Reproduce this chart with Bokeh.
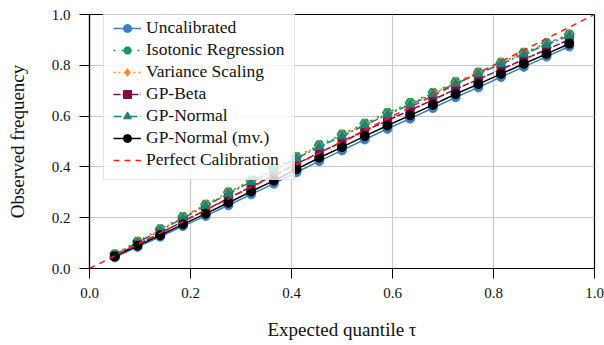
from bokeh.plotting import figure
from bokeh.models import Range1d, FixedTicker, NumeralTickFormatter
from bokeh.embed import file_html
from bokeh.resources import INLINE

# ---------------- data ----------------
tau = [0.05, 0.095, 0.14, 0.185, 0.23, 0.275, 0.32, 0.365, 0.41, 0.455, 0.5,
       0.545, 0.59, 0.635, 0.68, 0.725, 0.77, 0.815, 0.86, 0.905, 0.95]

uncalibrated = [0.044, 0.085, 0.125, 0.167, 0.207, 0.249, 0.292, 0.334, 0.379, 0.423, 0.465,
                0.508, 0.550, 0.590, 0.632, 0.674, 0.713, 0.754, 0.794, 0.834, 0.874]
isotonic = [0.056, 0.106, 0.155, 0.204, 0.252, 0.300, 0.347, 0.393, 0.440, 0.486, 0.528,
            0.571, 0.613, 0.652, 0.692, 0.734, 0.772, 0.811, 0.850, 0.887, 0.922]
variance_scaling = [0.056, 0.105, 0.153, 0.202, 0.250, 0.298, 0.345, 0.390, 0.437, 0.483, 0.525,
                    0.568, 0.610, 0.649, 0.690, 0.732, 0.770, 0.809, 0.848, 0.885, 0.922]
gp_beta = [0.050, 0.095, 0.139, 0.185, 0.230, 0.277, 0.322, 0.367, 0.412, 0.456, 0.498,
           0.541, 0.583, 0.623, 0.664, 0.706, 0.745, 0.784, 0.823, 0.862, 0.901]
gp_normal = [0.053, 0.102, 0.149, 0.198, 0.246, 0.294, 0.341, 0.386, 0.433, 0.479, 0.521,
             0.564, 0.606, 0.645, 0.686, 0.728, 0.766, 0.805, 0.844, 0.881, 0.917]
gp_normal_mv = [0.047, 0.090, 0.131, 0.174, 0.216, 0.259, 0.303, 0.346, 0.391, 0.436, 0.478,
                0.521, 0.563, 0.603, 0.644, 0.687, 0.726, 0.766, 0.806, 0.845, 0.885]
diag = [0.0, 1.0]

ticks = [0.0, 0.2, 0.4, 0.6, 0.8, 1.0]

FONT = "Liberation Serif"

p = figure(width=604, height=345, output_backend="svg", toolbar_location=None,
           x_range=Range1d(0, 1), y_range=Range1d(0, 1),
           min_border_left=89, min_border_right=10, min_border_top=14, min_border_bottom=77)

series = [
    ("Uncalibrated", uncalibrated, "#3b7ec0", "solid", "circle", 9),
    ("Isotonic Regression", isotonic, "#0a9a5e", "2 6", "hex", 10),
    ("Variance Scaling", variance_scaling, "#ff8c1a", "2 3", "diamond", 10),
    ("GP-Beta", gp_beta, "#7e0d47", "7 2", "square", 8),
    ("GP-Normal", gp_normal, "#1a8080", "8 3 2 3", "triangle", 9),
    ("GP-Normal (mv.)", gp_normal_mv, "#000000", "solid", "circle", 9),
]

for label, ys, color, dash, marker, size in series:
    p.line(tau, ys, line_color=color, line_width=1.5, line_dash=dash, legend_label=label)
    p.scatter(tau, ys, marker=marker, size=size, fill_color=color, line_color=color,
              legend_label=label)

p.line(diag, diag, line_color="#ff1a1a", line_width=1.5, line_dash="6 5",
       legend_label="Perfect Calibration")

# axes
for ax in (p.xaxis[0], p.yaxis[0]):
    ax.ticker = FixedTicker(ticks=ticks)
    ax.formatter = NumeralTickFormatter(format="0.0")
    ax.major_label_text_font = FONT
    ax.major_label_text_font_size = "15px"
    ax.major_label_text_color = "#111111"
    ax.axis_label_text_font = FONT
    ax.axis_label_text_font_size = "19px"
    ax.axis_label_text_font_style = "normal"
    ax.axis_label_text_color = "#111111"
    ax.minor_tick_line_color = None
    ax.major_tick_out = 10
    ax.major_tick_in = 0
    ax.major_tick_line_color = "black"
    ax.axis_line_color = "black"
    ax.axis_line_width = 1.2

p.xaxis.axis_label = "Expected quantile τ"
p.yaxis.axis_label = "Observed frequency"
p.xaxis.major_label_standoff = 9
p.xaxis.axis_label_standoff = 18
p.yaxis.major_label_standoff = 9
p.yaxis.axis_label_standoff = 21

p.xgrid.ticker = FixedTicker(ticks=ticks)
p.ygrid.ticker = FixedTicker(ticks=ticks)
p.grid.grid_line_color = "#c8c8c8"
p.grid.grid_line_width = 1.2

p.outline_line_color = "black"
p.outline_line_width = 1.2
p.background_fill_color = "white"
p.border_fill_color = "white"

# legend
lg = p.legend[0]
lg.location = (14, 88)
lg.margin = 0
lg.label_text_font = FONT
lg.label_text_font_size = "17.5px"
lg.label_text_color = "#111111"
lg.glyph_width = 28
lg.glyph_height = 20
lg.label_height = 20
lg.spacing = 1
lg.label_standoff = 5
lg.padding = 9
lg.border_line_color = "#cccccc"
lg.border_line_width = 1
lg.background_fill_alpha = 0.8

open("out.html", "w").write(file_html(p, INLINE))
